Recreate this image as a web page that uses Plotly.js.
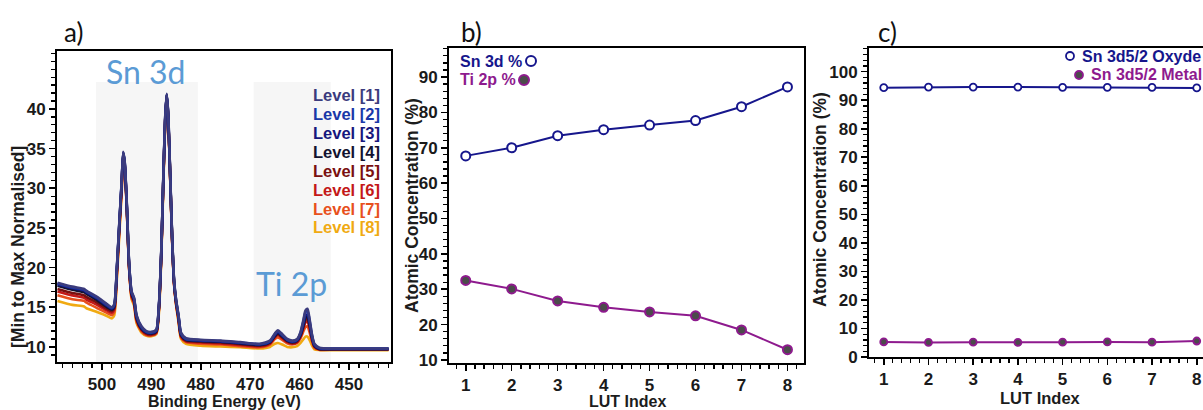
<!DOCTYPE html>
<html><head><meta charset="utf-8">
<script src="https://cdn.plot.ly/plotly-3.0.1.min.js"></script>
<style>html,body{margin:0;padding:0;background:#fff;} #chart{width:1203px;height:410px;}</style>
</head><body><div id="chart"></div>
<script>
// ---------- Panel a: XPS spectra ----------
const energy = [509, 506, 503.6, 503.2, 501, 499, 498, 497.5, 497, 496.5, 496, 495.7, 495.4, 495, 494.5, 494, 493.5, 493, 492, 491, 490, 489, 488.5, 488, 487.6, 487.2, 486.9, 486.6, 486.2, 485.8, 485.4, 485, 484.5, 484, 483, 480, 476, 472, 468, 466, 465, 464.4, 463.5, 462.5, 461.5, 460.5, 459.8, 459.2, 458.8, 458.4, 458, 457.5, 457, 456, 453, 448, 442];
const level1 = [18.1, 17.6, 17.3, 17.1, 16.3, 15.4, 15.0, 15.4, 19.8, 25.5, 31.0, 34.6, 33.4, 28.5, 20.5, 17.0, 16.2, 14.0, 12.6, 12.0, 11.9, 12.2, 15.0, 22.0, 31.0, 39.0, 41.9, 39.5, 32.0, 24.0, 18.4, 16.0, 14.0, 11.8, 11.1, 10.9, 10.8, 10.6, 10.4, 10.8, 11.7, 12.1, 11.6, 11.0, 10.8, 11.0, 11.9, 13.5, 14.6, 14.8, 13.6, 11.6, 10.4, 9.9, 9.8, 9.8, 9.8];
const level2 = [18.0, 17.5, 17.2, 17.0, 16.2, 15.3, 14.9, 15.3, 19.7, 25.4, 30.9, 34.5, 33.3, 28.4, 20.4, 16.9, 16.1, 13.9, 12.5, 11.9, 11.8, 12.1, 14.9, 21.9, 30.9, 38.9, 41.8, 39.4, 31.9, 23.9, 18.3, 15.9, 13.9, 11.7, 11.0, 10.85, 10.75, 10.55, 10.35, 10.7, 11.6, 12.0, 11.5, 10.9, 10.7, 10.9, 11.8, 13.3, 14.4, 14.5, 13.4, 11.5, 10.3, 9.85, 9.8, 9.8, 9.8];
const level3 = [17.9, 17.4, 17.1, 16.9, 16.1, 15.2, 14.8, 15.2, 19.6, 25.3, 30.8, 34.5, 33.2, 28.3, 20.3, 16.8, 16.0, 13.8, 12.4, 11.85, 11.75, 12.0, 14.8, 21.8, 30.8, 38.8, 41.8, 39.3, 31.8, 23.8, 18.2, 15.8, 13.8, 11.6, 10.95, 10.8, 10.7, 10.5, 10.3, 10.65, 11.5, 11.9, 11.4, 10.85, 10.65, 10.85, 11.6, 13.0, 14.0, 14.1, 13.1, 11.3, 10.2, 9.8, 9.75, 9.75, 9.75];
const level4 = [17.7, 17.2, 16.9, 16.7, 15.9, 15.0, 14.7, 15.1, 19.5, 25.2, 30.7, 34.4, 33.1, 28.2, 20.2, 16.7, 15.9, 13.7, 12.3, 11.8, 11.7, 11.95, 14.7, 21.7, 30.7, 38.7, 41.8, 39.2, 31.7, 23.7, 18.1, 15.7, 13.7, 11.5, 10.9, 10.75, 10.65, 10.45, 10.25, 10.6, 11.4, 11.75, 11.3, 10.8, 10.6, 10.8, 11.5, 12.8, 13.7, 13.8, 12.9, 11.2, 10.15, 9.75, 9.72, 9.72, 9.72];
const level5 = [17.3, 16.8, 16.5, 16.3, 15.6, 14.8, 14.5, 14.9, 19.3, 25.0, 30.5, 34.3, 33.0, 28.0, 20.0, 16.5, 15.7, 13.5, 12.2, 11.7, 11.6, 11.85, 14.6, 21.6, 30.6, 38.6, 41.7, 39.1, 31.6, 23.6, 18.0, 15.6, 13.6, 11.4, 10.8, 10.65, 10.55, 10.35, 10.15, 10.5, 11.3, 11.6, 11.2, 10.7, 10.5, 10.7, 11.4, 12.6, 13.4, 13.5, 12.7, 11.1, 10.1, 9.7, 9.7, 9.7, 9.7];
const level6 = [17.0, 16.5, 16.2, 16.0, 15.3, 14.6, 14.3, 14.7, 19.1, 24.8, 30.3, 34.2, 32.9, 27.9, 19.9, 16.4, 15.6, 13.4, 12.1, 11.6, 11.5, 11.8, 14.5, 21.5, 30.5, 38.5, 41.7, 39.0, 31.5, 23.5, 17.9, 15.5, 13.5, 11.3, 10.7, 10.55, 10.45, 10.25, 10.05, 10.4, 11.2, 11.5, 11.1, 10.6, 10.4, 10.6, 11.3, 12.4, 13.1, 13.2, 12.4, 10.9, 10.0, 9.68, 9.68, 9.68, 9.68];
const level7 = [16.5, 16.0, 15.8, 15.6, 14.9, 14.3, 14.0, 14.4, 18.8, 24.5, 30.0, 34.1, 32.8, 27.8, 19.8, 16.2, 15.4, 13.2, 12.0, 11.5, 11.45, 11.7, 14.4, 21.4, 30.4, 38.4, 41.6, 38.9, 31.4, 23.4, 17.8, 15.4, 13.3, 11.2, 10.6, 10.4, 10.3, 10.1, 9.95, 10.3, 11.0, 11.2, 10.9, 10.45, 10.3, 10.5, 11.1, 12.0, 12.5, 12.6, 11.9, 10.7, 9.9, 9.65, 9.65, 9.65, 9.65];
const level8 = [15.8, 15.3, 15.1, 14.9, 14.4, 13.9, 13.6, 14.0, 18.3, 24.0, 29.6, 33.9, 32.8, 27.8, 20.0, 16.0, 15.2, 13.0, 11.8, 11.4, 11.35, 11.6, 14.0, 21.0, 30.0, 38.0, 41.4, 39.0, 31.6, 23.6, 18.0, 15.3, 13.1, 11.0, 10.4, 10.15, 10.05, 9.95, 9.8, 10.0, 10.4, 10.5, 10.3, 10.0, 9.95, 10.1, 10.5, 11.0, 11.3, 11.3, 10.9, 10.2, 9.7, 9.6, 9.6, 9.6, 9.6];
const levelNames = ['Level [1]', 'Level [2]', 'Level [3]', 'Level [4]', 'Level [5]', 'Level [6]', 'Level [7]', 'Level [8]'];
const levelColors = ['#3b3b7d', '#1a38a8', '#17177d', '#131330', '#7a1010', '#c41818', '#e8501c', '#f0aa12'];
const snRegion = [501.2, 480.6];
const tiRegion = [469.3, 453.7];
const regionTop = 43.4;

// ---------- Panel b ----------
const lutIndex = [1, 2, 3, 4, 5, 6, 7, 8];
const sn3d = [67.7, 70.0, 73.4, 75.1, 76.4, 77.7, 81.6, 87.2];
const ti2p = [32.5, 30.1, 26.7, 24.9, 23.6, 22.5, 18.5, 12.9];

// ---------- Panel c ----------
const snOxyde = [94.4, 94.6, 94.6, 94.6, 94.5, 94.5, 94.5, 94.3];
const snMetal = [5.3, 5.1, 5.2, 5.1, 5.2, 5.3, 5.2, 5.6];

const W = 1203, H = 410;
const px = x => x / W, py = y => 1 - y / H;
const NAVY = '#16168c', PURPLE = '#8e1a8e', GREY = '#4b4b4b';
const levels = [level1, level2, level3, level4, level5, level6, level7, level8];

const traces = [];
for (let i = 7; i >= 0; i--) {
  traces.push({x: energy, y: levels[i], xaxis: 'x', yaxis: 'y', mode: 'lines', name: levelNames[i],
    line: {color: levelColors[i], width: 2.6, shape: 'spline', smoothing: 0.6}});
}
traces.push({x: lutIndex, y: ti2p, xaxis: 'x2', yaxis: 'y2', mode: 'lines+markers', name: 'Ti 2p %',
  line: {color: PURPLE, width: 2}, marker: {size: 9, color: GREY, line: {color: PURPLE, width: 2}}});
traces.push({x: lutIndex, y: sn3d, xaxis: 'x2', yaxis: 'y2', mode: 'lines+markers', name: 'Sn 3d %',
  line: {color: NAVY, width: 2}, marker: {size: 9, color: '#fff', line: {color: NAVY, width: 2}}});
traces.push({x: lutIndex, y: snMetal, xaxis: 'x3', yaxis: 'y3', mode: 'lines+markers', name: 'Sn 3d5/2 Metal',
  line: {color: PURPLE, width: 2}, marker: {size: 7, color: GREY, line: {color: PURPLE, width: 1.8}}});
traces.push({x: lutIndex, y: snOxyde, xaxis: 'x3', yaxis: 'y3', mode: 'lines+markers', name: 'Sn 3d5/2 Oxyde',
  line: {color: NAVY, width: 2}, marker: {size: 7, color: '#fff', line: {color: NAVY, width: 1.8}}});

const tickFont = {family: 'Liberation Sans, Arial, sans-serif', size: 17, color: '#1a1a1a', weight: 'bold'};
function ax(extra, minorDtick) {
  return Object.assign({showline: true, linecolor: '#000', linewidth: 2, mirror: true, ticks: 'outside',
    ticklen: 6, tickwidth: 1.6, tickcolor: '#000', showgrid: false, zeroline: false, tickfont: tickFont,
    fixedrange: true,
    minor: {ticks: 'outside', ticklen: 4, tickwidth: 1.3, tickcolor: '#000', dtick: minorDtick, showgrid: false}}, extra);
}

const boldFont = (size, color) => ({family: 'Liberation Sans, Arial, sans-serif', size: size, color: color, weight: 'bold'});
const ann = [];
function txt(text, x, y, font, xanchor, extra) {
  ann.push(Object.assign({text: text, xref: 'paper', yref: 'paper', x: px(x), y: py(y), xanchor: xanchor || 'center',
    yanchor: 'middle', showarrow: false, font: font}, extra || {}));
}
// panel letters
const letterFont = {family: 'Lato, Open Sans, sans-serif', size: 26, color: '#111'};
txt('a)', 62, 32, letterFont, 'left');
txt('b)', 459, 32, letterFont, 'left');
txt('c)', 876, 32, letterFont, 'left');
// panel a labels
const blueLbl = {family: 'Lato, Open Sans, sans-serif', size: 32, color: '#5b9bd5'};
txt('Sn 3d', 146, 72, blueLbl);
txt('Ti 2p', 291, 283, blueLbl);
const levelY = [95, 114, 133, 152, 171, 189.5, 208.5, 227];
for (let i = 0; i < 8; i++) txt(levelNames[i], 382, levelY[i], boldFont(16.5, levelColors[i]), 'right');
// axis titles
const titleFont = boldFont(16, '#1c1c1c');
const yTitleFont = boldFont(17.5, '#1c1c1c');
txt('Binding Energy (eV)', 224, 401.5, titleFont);
txt('[Min to Max Normalised]', 18, 247, yTitleFont, 'center', {textangle: -90});
txt('LUT Index', 627, 401.5, titleFont);
txt('Atomic Concentration (%)', 412, 206, yTitleFont, 'center', {textangle: -90});
txt('LUT Index', 1040, 398, boldFont(16.5, '#1c1c1c'));
txt('Atomic Concentration (%)', 820, 200, yTitleFont, 'center', {textangle: -90});
// legends b / c
txt('Sn 3d %', 458, 61, boldFont(16, NAVY), 'left');
txt('Ti 2p %', 458, 80, boldFont(16, PURPLE), 'left');
txt('Sn 3d5/2 Oxyde', 1080, 56, boldFont(16, NAVY), 'left');
txt('Sn 3d5/2 Metal', 1089, 75, boldFont(16, PURPLE), 'left');

function dot(x, y, r, fill, lc, lw) {
  return {type: 'circle', xref: 'paper', yref: 'paper', xsizemode: 'pixel', ysizemode: 'pixel',
    xanchor: px(x), yanchor: py(y), x0: -r, x1: r, y0: -r, y1: r, fillcolor: fill, line: {color: lc, width: lw}};
}
const shapes = [
  {type: 'rect', xref: 'x', yref: 'y', x0: snRegion[0], x1: snRegion[1], y0: 8.1, y1: regionTop, fillcolor: '#f6f6f6', line: {width: 0}, layer: 'below'},
  {type: 'rect', xref: 'x', yref: 'y', x0: tiRegion[0], x1: tiRegion[1], y0: 8.1, y1: regionTop, fillcolor: '#f6f6f6', line: {width: 0}, layer: 'below'},
  dot(531, 61, 5, '#fff', NAVY, 2),
  dot(524, 80, 5, GREY, PURPLE, 2),
  dot(1070, 56, 4, '#fff', NAVY, 1.8),
  dot(1079, 75, 4, GREY, PURPLE, 1.8)
];

const layout = {
  width: W, height: H, margin: {l: 0, r: 0, t: 0, b: 0}, paper_bgcolor: '#fff', plot_bgcolor: 'rgba(0,0,0,0)',
  showlegend: false, hovermode: false,
  xaxis: ax({domain: [px(57), px(391)], range: [509.1, 441.5], dtick: 10, tick0: 0, anchor: 'y'}, 2),
  yaxis: ax({domain: [py(362), py(51)], range: [8.1, 47.3], anchor: 'x', tickvals: [10, 15, 20, 25, 30, 35, 40]}, 1),
  xaxis2: ax({domain: [px(449), px(804)], range: [0.636, 8.36], dtick: 1, tick0: 0, anchor: 'y2'}, 0.2),
  yaxis2: ax({domain: [py(363), py(48)], range: [9.15, 98.2], dtick: 10, tick0: 0, anchor: 'x2'}, 2),
  xaxis3: ax({domain: [px(869), 1], range: [0.67, 8.14], dtick: 1, tick0: 0, anchor: 'y3'}, 0.2),
  yaxis3: ax({domain: [py(357), py(47.7)], range: [0, 108.4], dtick: 10, tick0: 0, anchor: 'x3', mirror: false}, 2),
  annotations: ann, shapes: shapes
};
Plotly.newPlot('chart', traces, layout, {staticPlot: true, displayModeBar: false});
</script></body></html>
